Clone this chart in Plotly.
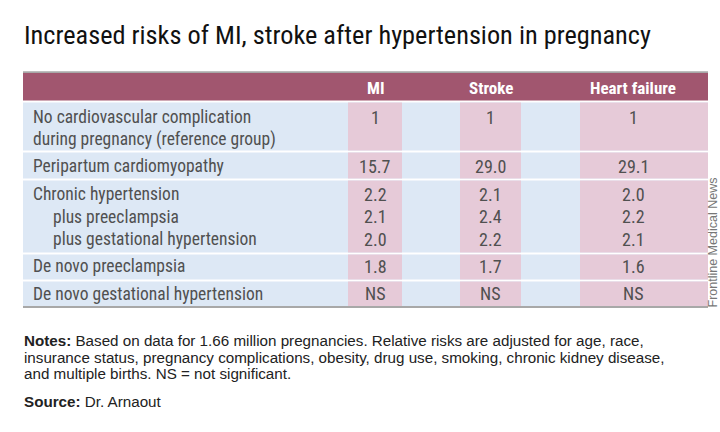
import plotly.graph_objects as go

# ---------------- data ----------------
title_text = "Increased risks of MI, stroke after hypertension in pregnancy"
column_names = ["MI", "Stroke", "Heart failure"]
line_labels = [
    "No cardiovascular complication",
    "during pregnancy (reference group)",
    "Peripartum cardiomyopathy",
    "Chronic hypertension",
    "plus preeclampsia",
    "plus gestational hypertension",
    "De novo preeclampsia",
    "De novo gestational hypertension",
]
mi_values = ["1", "", "15.7", "2.2", "2.1", "2.0", "1.8", "NS"]
stroke_values = ["1", "", "29.0", "2.1", "2.4", "2.2", "1.7", "NS"]
hf_values = ["1", "", "29.1", "2.0", "2.2", "2.1", "1.6", "NS"]
line_group = [0, 0, 1, 2, 2, 2, 3, 4]
line_indent = [0, 0, 0, 0, 1, 1, 0, 0]
note_prefixes = ["Notes:", "", ""]
note_lines = [
    "Based on data for 1.66 million pregnancies. Relative risks are adjusted for age, race,",
    "insurance status, pregnancy complications, obesity, drug use, smoking, chronic kidney disease,",
    "and multiple births. NS = not significant.",
]
source_prefix = "Source:"
source_line = "Dr. Arnaout"
credit_text = "Frontline Medical News"

# ---------------- layout geometry (pixels) ----------------
NARROW = "Liberation Sans Narrow, Arial Narrow, Roboto Condensed, sans-serif"
REGULAR = "Liberation Sans, Arial, Helvetica, sans-serif"
TABLE_L, TABLE_R = 23, 708
HEAD_T, HEAD_B = 73, 100.5
group_bands = [(102.5, 150.5), (152.5, 178.5), (180.5, 252.5), (254.5, 279.5), (281.5, 306)]
line_y = [117, 139, 166, 194, 216.5, 239, 266, 293.5]
col_bands = [(348, 402), (460, 521), (580, TABLE_R)]
col_text_x = [375, 490.5, 633]
label_x = [31, 51]
note_y = [340.7, 357, 373.3]
source_y = 401.5

HEADER = "#a1566f"
BLUE = "#dde8f5"
PINK = "#e6cad8"
GRAY_LINE = "#a8a8a8"
TEXT = "#505050"
NOTE = "#222222"

fig = go.Figure()
shapes = []
annotations = []

# top gray rule and header band
shapes.append(dict(type="rect", x0=TABLE_L, x1=TABLE_R, y0=71.3, y1=HEAD_T, fillcolor=GRAY_LINE, line_width=0))
shapes.append(dict(type="rect", x0=TABLE_L, x1=TABLE_R, y0=HEAD_T, y1=HEAD_B, fillcolor=HEADER, line_width=0))
# row bands
for (y0, y1) in group_bands:
    shapes.append(dict(type="rect", x0=TABLE_L, x1=TABLE_R, y0=y0, y1=y1, fillcolor=BLUE, line_width=0))
    for (cx0, cx1) in col_bands:
        shapes.append(dict(type="rect", x0=cx0, x1=cx1, y0=y0, y1=y1, fillcolor=PINK, line_width=0))
# bottom gray rule
shapes.append(dict(type="rect", x0=TABLE_L, x1=TABLE_R, y0=306, y1=308, fillcolor=GRAY_LINE, line_width=0))

# header labels
for name, cx in zip(column_names, col_text_x):
    annotations.append(dict(x=cx, y=(HEAD_T + HEAD_B) / 2 + 1, text="<b>" + name + "</b>", showarrow=False,
                            xanchor="center", yanchor="middle",
                            font=dict(family=NARROW, size=17, color="white")))

# row labels and values
for i, lab in enumerate(line_labels):
    annotations.append(dict(x=label_x[line_indent[i]], y=line_y[i], text=lab, showarrow=False,
                            xanchor="left", yanchor="middle",
                            font=dict(family=NARROW, size=17.5, color=TEXT)))
    for vals, cx in zip([mi_values, stroke_values, hf_values], col_text_x):
        if vals[i]:
            annotations.append(dict(x=cx, y=line_y[i], text=vals[i], showarrow=False,
                                    xanchor="center", yanchor="middle",
                                    font=dict(family=NARROW, size=18, color=TEXT)))

# title
annotations.append(dict(x=22, y=35, text=title_text, showarrow=False, xanchor="left", yanchor="middle",
                        font=dict(family=NARROW, size=26.3, color="#111111")))


def prefixed(prefix, body):
    if not prefix:
        return body
    return "<b>" + prefix + "</b> " + body


# notes & source (one annotation per line for tight line spacing)
for pre, line, y in zip(note_prefixes, note_lines, note_y):
    annotations.append(dict(x=22, y=y, text=prefixed(pre, line), showarrow=False, xanchor="left",
                            yanchor="middle", align="left",
                            font=dict(family=REGULAR, size=15.2, color=NOTE)))
annotations.append(dict(x=22, y=source_y, text=prefixed(source_prefix, source_line), showarrow=False,
                        xanchor="left", yanchor="middle", align="left",
                        font=dict(family=REGULAR, size=15.2, color=NOTE)))
# vertical credit
annotations.append(dict(x=712.5, y=243, text=credit_text, showarrow=False, textangle=-90,
                        xanchor="center", yanchor="middle",
                        font=dict(family=REGULAR, size=12.5, color="#777777")))

fig.update_layout(
    width=720, height=432, autosize=False,
    margin=dict(l=0, r=0, t=0, b=0),
    paper_bgcolor="white", plot_bgcolor="white",
    xaxis=dict(range=[0, 720], visible=False, fixedrange=True),
    yaxis=dict(range=[432, 0], visible=False, fixedrange=True),
    shapes=shapes, annotations=annotations, showlegend=False,
)

fig.write_html("out.html", config={"displayModeBar": False},
               post_script="document.body.style.margin='0';")
